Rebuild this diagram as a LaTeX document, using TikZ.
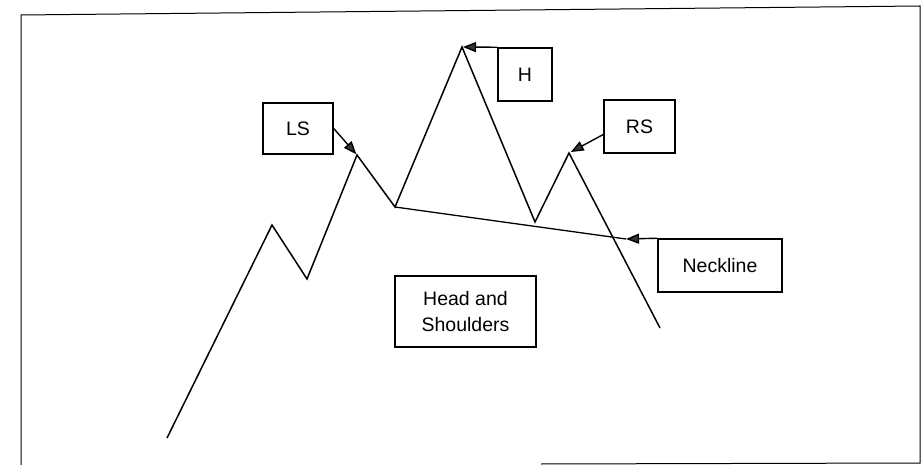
\documentclass[tikz,border=0pt]{standalone}
\usepackage{fontspec}
\setmainfont{Liberation Sans}
\usetikzlibrary{arrows.meta}

\tikzset{
  chartline/.style={line width=1.5pt, line join=miter},
  labelbox/.style={draw, line width=1.5pt, inner sep=0pt, align=center,
    font=\fontsize{19.5}{26}\selectfont},
  pointer/.style={line width=1.4pt,
    -{Triangle[length=13pt,width=10pt,fill=black!80]}},
}

\begin{document}
\begin{tikzpicture}[x=1pt,y=-1pt]
\useasboundingbox (0,0) rectangle (924,465);

% outer frame
\draw[line width=1pt] (21,465) -- (21,15) -- (920,6) -- (920,463) -- (541,464);

% price path
\coordinate (p0) at (167,438);
\coordinate (p1) at (272,225);
\coordinate (p2) at (307,279);
\coordinate (lspk) at (357,155);
\coordinate (p4) at (395,207);
\coordinate (hpk) at (462,47);
\coordinate (p6) at (535,222);
\coordinate (rspk) at (569,153);
\coordinate (p8) at (660,328);
\coordinate (nend) at (626,239);

\draw[chartline] (p0) -- (p1) -- (p2) -- (lspk) -- (p4) -- (hpk)
  -- (p6) -- (rspk) -- (p8);

% neckline
\draw[line width=1.3pt] (p4) -- (nend);

% labels
\node[labelbox, minimum width=70, minimum height=51] (ls) at (298,128.5) {LS};
\node[labelbox, minimum width=54, minimum height=53] (h) at (525,74.5) {H};
\node[labelbox, minimum width=71, minimum height=53] (rs) at (639.5,126.5) {RS};
\node[labelbox, minimum width=124, minimum height=53] (neck) at (720,265.5) {Neckline};
\node[labelbox, minimum width=141, minimum height=71] (hs) at (465.5,311.5) {Head and\\Shoulders};

% pointers
\draw[pointer, shorten >=1pt] (ls.east) -- (lspk);
\draw[pointer, shorten >=1pt] (h.north west) -- (hpk);
\draw[pointer, shorten >=2pt] ([yshift=-8pt]rs.west) -- (rspk);
\draw[pointer] (neck.north west) -- (nend);
\end{tikzpicture}
\end{document}
